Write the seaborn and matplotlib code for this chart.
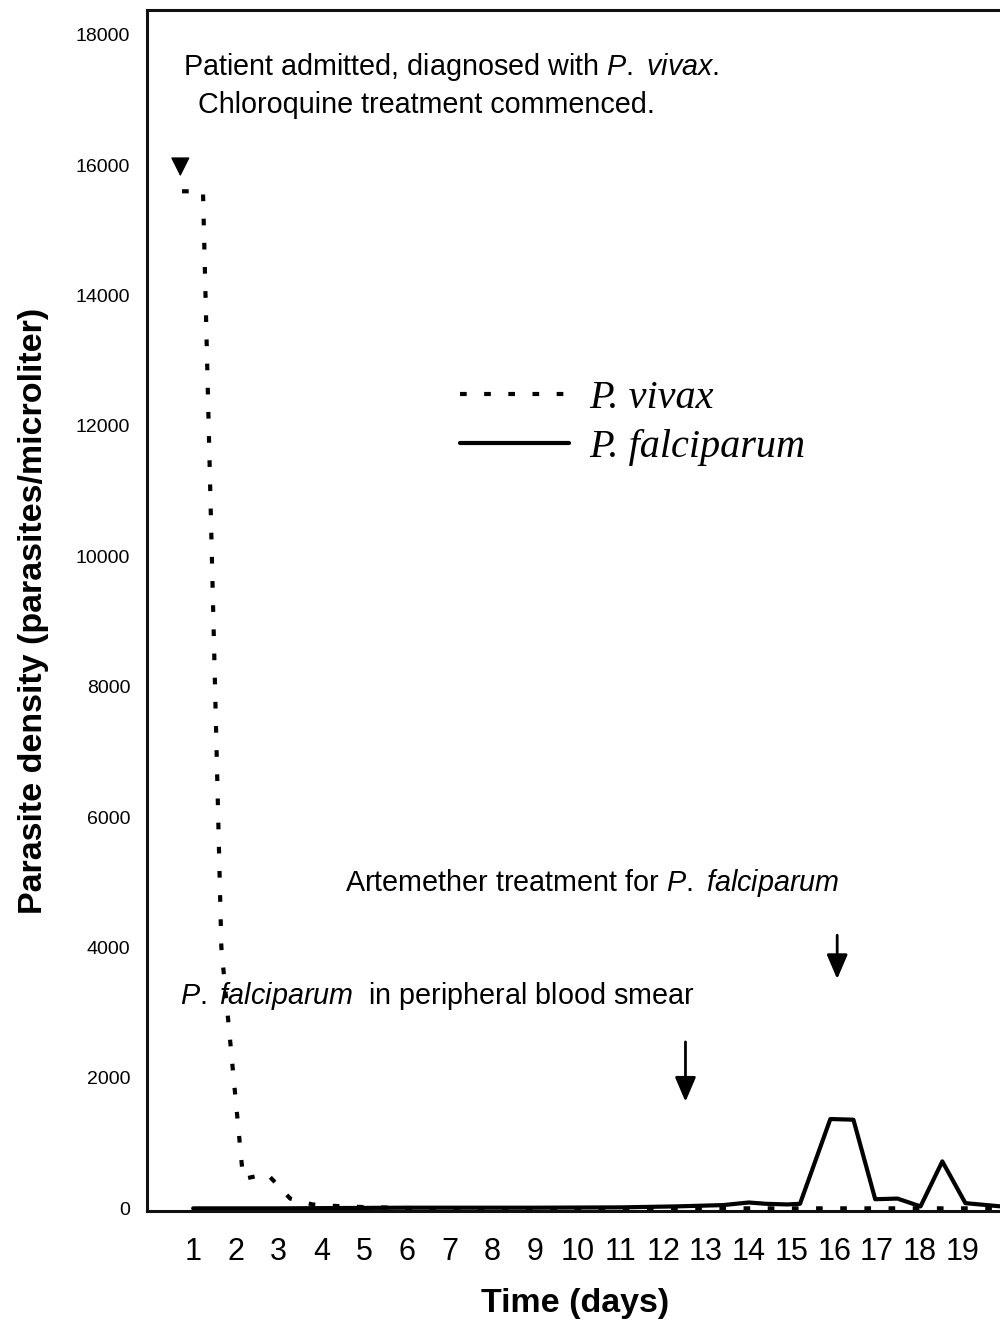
import numpy as np
import pandas as pd
import seaborn as sns
from matplotlib import pyplot as plt

# values (day, parasites per microliter)
vivax_day = [0.74, 1.23, 1.66, 2.17, 2.73, 3.27, 3.79, 4.5, 5.0, 6.0, 8.0, 10.0, 12.0, 14.0, 16.0, 18.0, 19.9]
vivax_density = [15600, 15600, 4000, 450, 530, 150, 60, 30, 20, 5, 0, 0, 0, 0, 0, 0, 0]

falc_day = [1.0, 3.0, 6.0, 9.0, 11.0, 12.3, 13.4, 14.0, 14.4, 14.9, 15.2, 15.91, 16.45, 16.96, 17.48, 18.02, 18.53, 19.07, 19.9]
falc_density = [0, 0, 10, 10, 15, 30, 50, 90, 70, 60, 70, 1370, 1360, 140, 150, 30, 720, 80, 30]

day_ticks = list(range(1, 20))
density_ticks = list(range(0, 18001, 2000))

vivax = pd.DataFrame({"day": vivax_day, "density": vivax_density})
falc = pd.DataFrame({"day": falc_day, "density": falc_density})

sns.set_theme(style="white")
plt.rcParams["font.family"] = ["Liberation Sans", "DejaVu Sans"]
plt.rcParams["mathtext.fontset"] = "custom"
plt.rcParams["mathtext.rm"] = "Liberation Sans"
plt.rcParams["mathtext.it"] = "Liberation Sans:italic"
for k in ["text.color", "axes.labelcolor", "xtick.color", "ytick.color"]:
    plt.rcParams[k] = "black"

fig = plt.figure(figsize=(10, 13.21), dpi=100)
ax = fig.add_axes([0.147, 0.0833, 0.856, 0.9091])

sns.lineplot(data=vivax, x="day", y="density", ax=ax, color="black", lw=3,
             linestyle=(0, (1.6, 4.2)), estimator=None, label="P. vivax")
sns.lineplot(data=falc, x="day", y="density", ax=ax, color="black", lw=3,
             estimator=None, label="P. falciparum")

ax.set_xlim(-0.08, 19.95)
ax.set_ylim(-40, 18380)
ax.set_xticks(day_ticks)
ax.set_xticklabels([str(d) for d in day_ticks], fontsize=22)
ax.set_yticks(density_ticks)
ax.set_yticklabels([str(v) for v in density_ticks], fontsize=14)
ax.tick_params(axis="x", length=0, pad=19)
ax.tick_params(axis="y", length=0, pad=12)

ax.set_xlabel("Time (days)", fontsize=24.5, fontweight="bold", labelpad=15)
ax.set_ylabel("Parasite density (parasites/microliter)", fontsize=24.5, fontweight="bold", labelpad=19)

for side in ["left", "top", "bottom", "right"]:
    ax.spines[side].set_color("#111")
    ax.spines[side].set_linewidth(2.2)

ax.legend(frameon=False, loc="upper left", bbox_to_anchor=(0.366, 0.692),
          borderaxespad=0, borderpad=0, handlelength=2.7, handletextpad=0.5,
          labelspacing=0.3, prop={"family": ["Liberation Serif", "DejaVu Serif"],
                                  "style": "italic", "size": 29})

# annotations
ax.text(0.77, 17508, r"Patient admitted, diagnosed with $\it{P.}$ $\it{vivax}$.", fontsize=20.7,
        ha="left", va="center")
ax.text(1.12, 16927, "Chloroquine treatment commenced.", fontsize=20.7, ha="left", va="center")
ax.text(4.56, 4985, r"Artemether treatment for $\it{P.}$ $\it{falciparum}$", fontsize=20.7,
        ha="left", va="center")
ax.text(0.70, 3257, r"$\it{P.}$ $\it{falciparum}$  in peripheral blood smear", fontsize=20.7,
        ha="left", va="center")

top_head = dict(arrowstyle="-|>,head_length=0.6,head_width=0.3", color="black", lw=1,
                mutation_scale=20, shrinkA=0, shrinkB=0)
ax.annotate("", xy=(0.70, 15830), xytext=(0.70, 16090), arrowprops=top_head)
head = dict(arrowstyle="-|>,head_length=0.75,head_width=0.32", color="black", lw=2,
            mutation_scale=20, shrinkA=0, shrinkB=0)
ax.annotate("", xy=(12.52, 1636), xytext=(12.52, 2553), arrowprops=head)
ax.annotate("", xy=(16.07, 3517), xytext=(16.07, 4190), arrowprops=head)

fig.savefig("out.png", dpi=100)
